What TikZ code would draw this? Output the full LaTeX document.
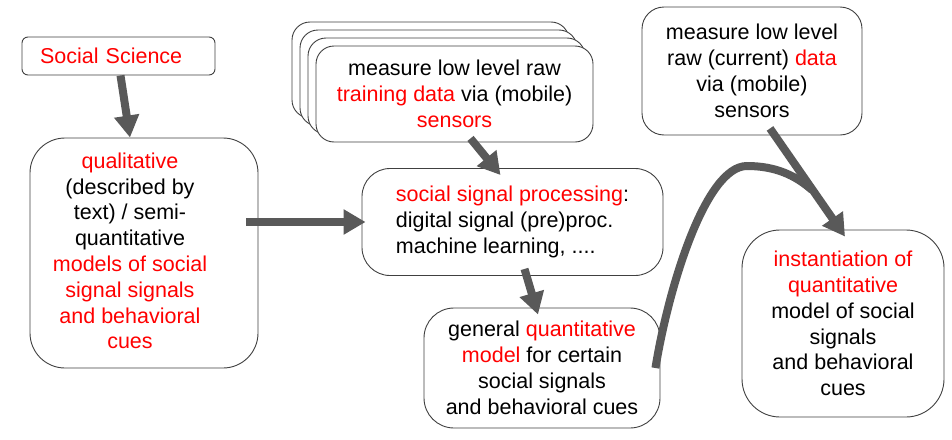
\documentclass[tikz,border=0pt]{standalone}
\usepackage{fontspec}
\setmainfont{Liberation Sans}
\usetikzlibrary{arrows.meta}
\newcommand{\hl}[1]{\textcolor{red}{#1}}

\begin{document}
\begin{tikzpicture}[x=1pt, y=-1pt,
        box/.style={draw=black!75, line width=0.9pt, fill=white, align=center, inner sep=0pt},
        flow/.style={draw=black!65, line width=8pt, -{Triangle[length=22pt,width=24pt]}},
        font=\fontsize{21.5}{25.8}\selectfont]
    \useasboundingbox (0,0) rectangle (952,439);

    \node[box, rounded corners=6pt, minimum width=193pt, minimum height=38pt, text width=157pt, align=left] (soc) at (118.5,56) {\hl{Social Science}};

    \node[box, rounded corners=35pt, minimum width=228pt, minimum height=230pt] (qual) at (144,253) {};
    \node[align=center] (qualtxt) at (130,251) {\hl{qualitative}\\(described by\\text) / semi-\\quantitative\\\hl{models of social}\\\hl{signal signals}\\\hl{and behavioral}\\\hl{cues}};

    \foreach \k in {3,2,1}
        \node[box, rounded corners=18pt, minimum width=277pt, minimum height=96pt] (train\k) at (454.5-8*\k, 94-8*\k) {};
    \node[box, rounded corners=18pt, minimum width=277pt, minimum height=96pt] (train) at (454.5,94) {measure low level raw\\\hl{training data} via (mobile)\\\hl{sensors}};

    \node[box, rounded corners=28pt, minimum width=301pt, minimum height=107pt, align=left] (ssp) at (512.5,222) {\hl{social signal processing}:\\digital signal (pre)proc.\\machine learning, ....};

    \node[box, rounded corners=30pt, minimum width=236pt, minimum height=120pt] (gen) at (542,368) {general \hl{quantitative}\\\hl{model} for certain\\social signals\\and behavioral cues};

    \node[box, rounded corners=22pt, minimum width=220pt, minimum height=128pt] (cur) at (752,71) {measure low level\\raw (current) \hl{data}\\via (mobile)\\sensors};

    \node[box, rounded corners=38pt, minimum width=202pt, minimum height=187pt] (inst) at (843,323.5) {\hl{instantiation of}\\\hl{quantitative}\\model of social\\signals\\and behavioral\\cues};

    % connectors
    \coordinate (q1) at ([xshift=-12pt]qual.east);
    \coordinate (join) at (812,190);
    \draw[flow] ([xshift=2pt]soc.south) -- ([xshift=-14pt]qual.north);
    \draw[flow] (q1 |- ssp.west) -- ([xshift=4pt]ssp.west);
    \draw[flow] ([xshift=16pt,yshift=4pt]train.south) -- ([xshift=-12pt,yshift=-7pt]ssp.north);
    \draw[flow] ([xshift=12pt,yshift=7pt]ssp.south) -- ([xshift=-4pt,yshift=-7pt]gen.north);
    \draw[draw=black!65, line width=8pt] ([xshift=-5pt]gen.east) .. controls (668,290) and (705,166) .. (747,166) .. controls (775,166) and (795,175) .. (join);
    \draw[flow] ([xshift=18pt,yshift=7pt]cur.south) -- ([xshift=2pt,yshift=-7pt]inst.north);
\end{tikzpicture}
\end{document}
